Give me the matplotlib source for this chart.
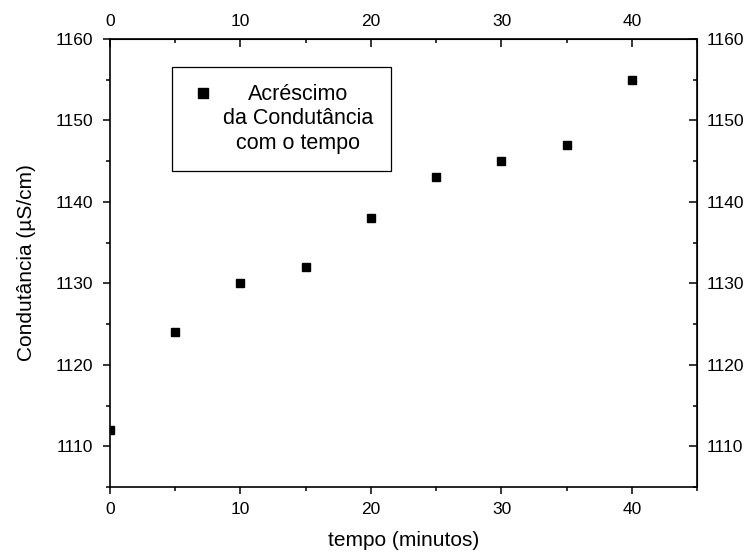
import matplotlib
matplotlib.use("Agg")
import matplotlib.pyplot as plt
from matplotlib.ticker import MultipleLocator
from matplotlib.legend_handler import HandlerLine2D

plt.rcParams['font.family'] = ['Liberation Sans', 'DejaVu Sans']

tempo = [0, 5, 10, 15, 20, 25, 30, 35, 40]
condutancia = [1112, 1124, 1130, 1132, 1138, 1143, 1145, 1147, 1155]
legend_label = "Acréscimo\nda Condutância\ncom o tempo"
xlabel = "tempo (minutos)"
ylabel = "Condutância (µS/cm)"


class TopAlignedHandler(HandlerLine2D):
    """Place the legend marker level with the first line of a multi-line label."""
    def __init__(self, shift=18, **kw):
        super().__init__(**kw)
        self.shift = shift

    def create_artists(self, legend, orig_handle, xdescent, ydescent,
                       width, height, fontsize, trans):
        return super().create_artists(legend, orig_handle, xdescent,
                                      ydescent - 2 * self.shift,
                                      width, height, fontsize, trans)


fig = plt.figure(figsize=(7.53, 5.56), dpi=100)
ax = fig.add_axes([0.146, 0.124, 0.780, 0.806])

line, = ax.plot(tempo, condutancia, 's', color='black', markersize=6,
                label=legend_label)

ax.set_xlim(0, 45)
ax.set_ylim(1105, 1160)
ax.xaxis.set_major_locator(MultipleLocator(10))
ax.xaxis.set_minor_locator(MultipleLocator(5))
ax.yaxis.set_major_locator(MultipleLocator(10))
ax.yaxis.set_minor_locator(MultipleLocator(5))
ax.tick_params(which='major', direction='out', length=5, width=1.1, labelsize=12.5)
ax.tick_params(which='minor', direction='out', length=3, width=1.1)
ax.tick_params(axis='x', which='major', pad=6)
ax.tick_params(axis='y', which='major', pad=7)
for s in ax.spines.values():
    s.set_linewidth(1.2)

top = ax.secondary_xaxis('top')
top.xaxis.set_major_locator(MultipleLocator(10))
top.xaxis.set_minor_locator(MultipleLocator(5))
top.tick_params(which='major', direction='in', length=6, width=1.1, labelsize=12.5, pad=7)
top.tick_params(which='minor', direction='in', length=3, width=1.1)

right = ax.secondary_yaxis('right')
right.yaxis.set_major_locator(MultipleLocator(10))
right.yaxis.set_minor_locator(MultipleLocator(5))
right.tick_params(which='major', direction='in', length=6, width=1.1, labelsize=12.5, pad=7)
right.tick_params(which='minor', direction='in', length=3, width=1.1)

ax.set_xlabel(xlabel, fontsize=15, labelpad=10)
ax.set_ylabel(ylabel, fontsize=15, labelpad=14)

leg = ax.legend(loc='upper left', bbox_to_anchor=(0.1056, 0.9375), borderaxespad=0,
                frameon=True, fancybox=False, framealpha=1, edgecolor='black',
                fontsize=15.5, handletextpad=0.28, borderpad=0.8, handlelength=1.3,
                handler_map={line: TopAlignedHandler(shift=19)})
leg.get_frame().set_linewidth(0.9)
for t in leg.get_texts():
    t.set_multialignment('center')
leg.get_lines()[0].set_markersize(7)

fig.savefig("out.png", dpi=100)
